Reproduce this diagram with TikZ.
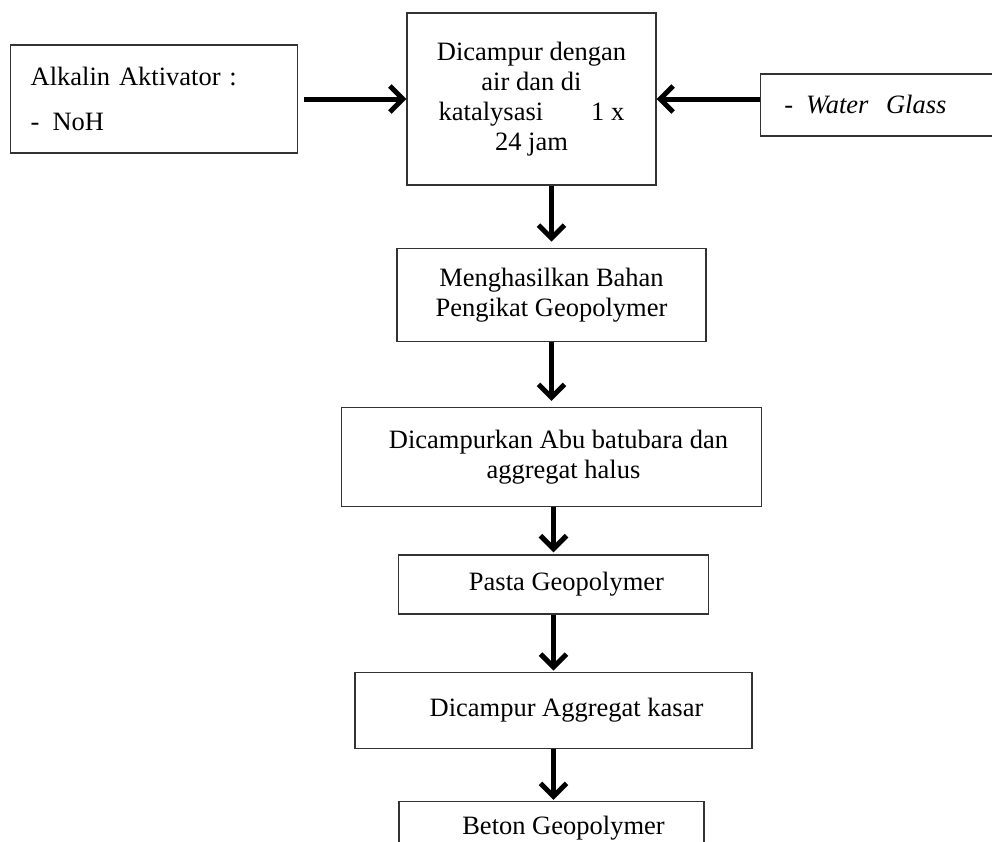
\documentclass[tikz,border=0pt]{standalone}
\usepackage{fontspec}
\setmainfont{Liberation Serif}
\usetikzlibrary{arrows.meta,positioning}
\tikzset{
  box/.style={draw=black!80,line width=1.3pt,inner sep=0pt,align=center,
    font=\fontsize{26.5}{30}\selectfont},
  side/.style={box,align=left},
  arr/.style={-{Straight Barb[length=13pt,width=26pt]},line width=5pt},
}

\begin{document}
\begin{tikzpicture}[x=1pt,y=-1pt]
  \useasboundingbox (0,0) rectangle (992,841);
  % top row
  \node[box,minimum width=249pt,minimum height=172pt] (mix) at (531.5,99)
    {Dicampur dengan\\air dan di\\katalysasi\hspace{48pt}1 x\\24 jam};
  \node[side,text width=247pt,inner xsep=20pt,minimum height=108pt,
    left=108pt of mix] (alk) {Alkalin Aktivator :\\[15pt]-\hspace{13pt}NoH};
  \node[side,text width=193pt,inner xsep=24pt,minimum height=62pt,
    right=103pt of mix,yshift=-6pt] (water) {-\hspace{13pt}\textit{Water\ \ Glass}};
  % main chain
  \node[box,minimum width=309pt,minimum height=93pt,below=62pt of mix,xshift=20pt] (gen)
    {Menghasilkan Bahan\\Pengikat Geopolymer};
  \node[box,minimum width=420pt,minimum height=99pt,below=65pt of gen] (abu)
    {\hspace*{14pt}Dicampurkan Abu batubara dan\\\hspace*{24pt}aggregat halus};
  \node[box,minimum width=310pt,minimum height=59pt,below=47pt of abu,xshift=2pt] (pasta)
    {\hspace*{26pt}Pasta Geopolymer};
  \node[box,minimum width=397pt,minimum height=76pt,below=57pt of pasta] (kasar)
    {\hspace*{26pt}Dicampur Aggregat kasar};
  \node[box,minimum width=305pt,minimum height=54pt,below=52pt of kasar,xshift=-2pt] (beton)
    {\hspace*{24pt}Beton Geopolymer};
  % arrows
  \draw[arr,shorten <=6pt] (alk.east) -- (mix.west);
  \draw[arr] (water.west |- mix.east) -- (mix.east);
  \draw[arr,shorten >=6pt] (gen.north |- mix.south) -- (gen.north);
  \draw[arr,shorten >=6pt] (gen.south) -- (gen.south |- abu.north);
  \draw[arr,shorten >=2pt] (pasta.north |- abu.south) -- (pasta.north);
  \draw[arr,shorten >=1pt] (pasta.south) -- (pasta.south |- kasar.north);
  \draw[arr,shorten >=1pt] (kasar.south) -- (kasar.south |- beton.north);
\end{tikzpicture}
\end{document}
